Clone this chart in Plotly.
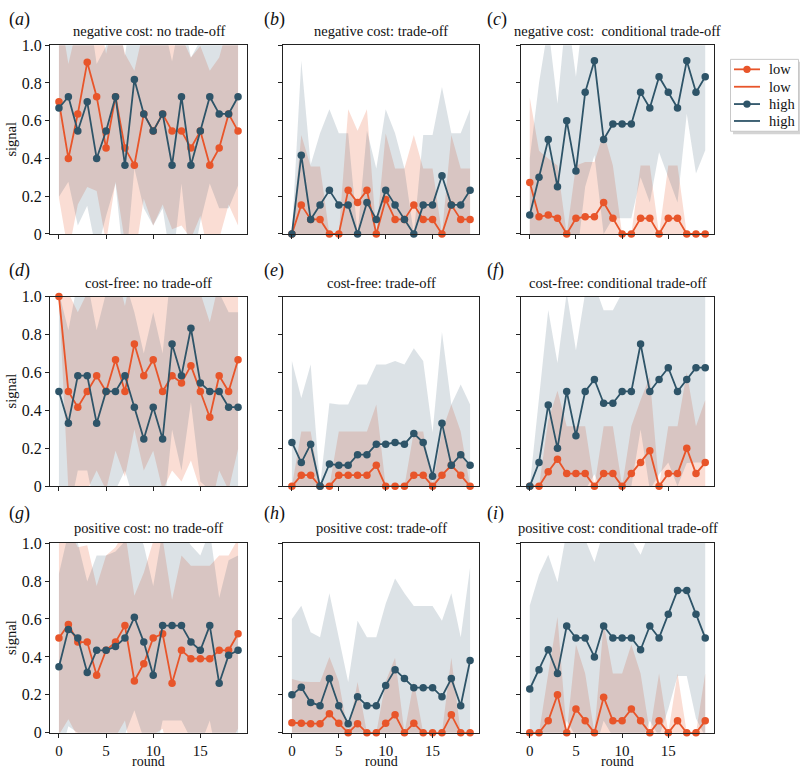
import numpy as np
import plotly.graph_objects as go

rounds = list(range(20))

titles = ["negative cost: no trade-off", "negative cost: trade-off", "negative cost:  conditional trade-off",
          "cost-free: no trade-off", "cost-free: trade-off", "cost-free: conditional trade-off",
          "positive cost: no trade-off", "positive cost: trade-off", "positive cost: conditional trade-off"]
panel_letters = ["a", "b", "c", "d", "e", "f", "g", "h", "i"]
ytick_vals = [0, 0.2, 0.4, 0.6, 0.8, 1.0]
ytick_text = ["0", "0.2", "0.4", "0.6", "0.8", "1.0"]
xtick_vals = [0, 5, 10, 15]
legend_names = ["low", "low", "high", "high"]

# (a) negative cost: no trade-off
low_mean_a = [0.70, 0.40, 0.636, 0.909, 0.727, 0.455, 0.727, 0.455, 0.364, 0.636, 0.545, 0.636, 0.545, 0.545, 0.455, 0.545, 0.364, 0.455, 0.636, 0.545]
low_sd_a = [0.51, 0.5, 0.48, 0.66, 0.5, 0.5, 0.45, 0.5, 0.5, 0.45, 0.5, 0.48, 0.52, 0.5, 0.48, 0.45, 0.5, 0.48, 0.48, 0.5]
high_mean_a = [0.667, 0.727, 0.545, 0.70, 0.40, 0.545, 0.727, 0.364, 0.818, 0.636, 0.545, 0.636, 0.364, 0.727, 0.364, 0.545, 0.727, 0.636, 0.636, 0.727]
high_sd_a = [0.47, 0.45, 0.5, 0.55, 0.5, 0.45, 0.46, 0.58, 0.47, 0.5, 0.5, 0.5, 0.55, 0.46, 0.57, 0.48, 0.46, 0.5, 0.5, 0.47]

# (b) negative cost: trade-off
low_mean_b = [0, 0.154, 0.077, 0.077, 0, 0, 0.231, 0.167, 0.231, 0, 0.182, 0.077, 0.077, 0.154, 0.077, 0.077, 0, 0.154, 0.077, 0.077]
low_sd_b = [0, 0.37, 0.28, 0.28, 0, 0, 0.43, 0.38, 0.43, 0, 0.35, 0.27, 0.27, 0.37, 0.27, 0.27, 0, 0.37, 0.27, 0.27]
high_mean_b = [0, 0.417, 0.077, 0.154, 0.231, 0.154, 0.154, 0, 0.167, 0.077, 0.231, 0.154, 0.077, 0, 0.154, 0.154, 0.308, 0.154, 0.154, 0.231]
high_sd_b = [0, 0.5, 0.29, 0.38, 0.43, 0.38, 0.38, 0, 0.38, 0.27, 0.43, 0.38, 0.27, 0, 0.37, 0.37, 0.47, 0.38, 0.38, 0.43]

# (c) negative cost: conditional trade-off
low_mean_c = [0.273, 0.091, 0.1, 0.083, 0, 0.083, 0.091, 0.091, 0.167, 0.083, 0, 0, 0.083, 0.083, 0, 0.083, 0.083, 0, 0, 0]
low_sd_c = [0.45, 0.35, 0.3, 0.28, 0, 0.28, 0.29, 0.29, 0.37, 0.28, 0, 0, 0.28, 0.28, 0, 0.28, 0.28, 0, 0, 0]
high_mean_c = [0.1, 0.3, 0.5, 0.25, 0.6, 0.333, 0.75, 0.917, 0.5, 0.583, 0.583, 0.583, 0.75, 0.667, 0.833, 0.75, 0.667, 0.917, 0.75, 0.833]
high_sd_c = [0.3, 0.5, 0.6, 0.44, 0.6, 0.5, 0.5, 0.5, 0.5, 0.5, 0.5, 0.5, 0.45, 0.5, 0.4, 0.45, 0.5, 0.28, 0.43, 0.39]

# (d) cost-free: no trade-off
low_mean_d = [1.0, 0.5, 0.417, 0.5, 0.583, 0.5, 0.667, 0.5, 0.75, 0.583, 0.667, 0.5, 0.583, 0.545, 0.636, 0.5, 0.364, 0.583, 0.5, 0.667]
low_sd_d = [0, 0.52, 0.5, 0.52, 0.5, 0.52, 0.48, 0.45, 0.45, 0.5, 0.48, 0.52, 0.5, 0.52, 0.5, 0.52, 0.5, 0.5, 0.52, 0.47]
high_mean_d = [0.5, 0.333, 0.583, 0.583, 0.333, 0.5, 0.5, 0.583, 0.417, 0.25, 0.417, 0.25, 0.75, 0.583, 0.833, 0.545, 0.5, 0.5, 0.417, 0.417]
high_sd_d = [0.52, 0.49, 0.5, 0.5, 0.49, 0.52, 0.52, 0.5, 0.5, 0.45, 0.5, 0.45, 0.45, 0.5, 0.39, 0.52, 0.52, 0.52, 0.5, 0.5]

# (e) cost-free: trade-off
low_mean_e = [0, 0.059, 0.059, 0, 0, 0.059, 0.059, 0.059, 0.059, 0.111, 0, 0, 0, 0.059, 0.059, 0, 0.059, 0.111, 0.059, 0]
low_sd_e = [0, 0.23, 0.23, 0, 0, 0.23, 0.23, 0.23, 0.23, 0.32, 0, 0, 0, 0.23, 0.23, 0, 0.23, 0.32, 0.23, 0]
high_mean_e = [0.231, 0.125, 0.222, 0, 0.118, 0.111, 0.111, 0.167, 0.167, 0.222, 0.222, 0.231, 0.222, 0.278, 0.231, 0.053, 0.333, 0.111, 0.167, 0.111]
high_sd_e = [0.43, 0.34, 0.42, 0, 0.32, 0.32, 0.32, 0.37, 0.37, 0.42, 0.42, 0.43, 0.42, 0.45, 0.43, 0.23, 0.48, 0.32, 0.37, 0.32]

# (f) cost-free: conditional trade-off
low_mean_f = [0, 0, 0.077, 0.143, 0.067, 0.067, 0.067, 0, 0.067, 0.067, 0, 0.067, 0.125, 0.188, 0, 0.067, 0.067, 0.2, 0.067, 0.125]
low_sd_f = [0, 0, 0.27, 0.36, 0.25, 0.25, 0.25, 0, 0.25, 0.25, 0, 0.25, 0.33, 0.39, 0, 0.25, 0.25, 0.4, 0.25, 0.33]
high_mean_f = [0, 0.125, 0.429, 0.2, 0.5, 0.267, 0.5, 0.563, 0.438, 0.438, 0.5, 0.5, 0.75, 0.5, 0.563, 0.625, 0.5, 0.563, 0.625, 0.625]
high_sd_f = [0, 0.33, 0.5, 0.45, 0.52, 0.45, 0.52, 0.5, 0.49, 0.49, 0.52, 0.5, 0.45, 0.52, 0.5, 0.5, 0.5, 0.44, 0.5, 0.5]

# (g) positive cost: no trade-off
low_mean_g = [0.5, 0.571, 0.478, 0.478, 0.304, 0.435, 0.478, 0.565, 0.273, 0.364, 0.5, 0.522, 0.261, 0.435, 0.391, 0.391, 0.391, 0.435, 0.435, 0.522]
low_sd_g = [0.51, 0.5, 0.5, 0.51, 0.47, 0.5, 0.5, 0.5, 0.45, 0.48, 0.51, 0.5, 0.44, 0.5, 0.49, 0.49, 0.49, 0.5, 0.5, 0.5]
high_mean_g = [0.348, 0.545, 0.5, 0.318, 0.435, 0.435, 0.455, 0.5, 0.609, 0.478, 0.304, 0.565, 0.565, 0.565, 0.478, 0.435, 0.565, 0.261, 0.409, 0.435]
high_sd_g = [0.49, 0.51, 0.5, 0.48, 0.5, 0.5, 0.5, 0.51, 0.49, 0.51, 0.47, 0.5, 0.5, 0.5, 0.51, 0.5, 0.5, 0.45, 0.5, 0.5]

# (h) positive cost: trade-off
low_mean_h = [0.053, 0.05, 0.048, 0.048, 0.1, 0.05, 0, 0.048, 0, 0, 0.05, 0.095, 0, 0.05, 0, 0, 0, 0.095, 0, 0]
low_sd_h = [0.23, 0.22, 0.22, 0.22, 0.3, 0.22, 0, 0.22, 0, 0, 0.22, 0.3, 0, 0.22, 0, 0, 0, 0.3, 0, 0]
high_mean_h = [0.2, 0.24, 0.16, 0.143, 0.286, 0.143, 0.048, 0.19, 0.143, 0.143, 0.25, 0.333, 0.286, 0.238, 0.238, 0.238, 0.19, 0.286, 0.143, 0.381]
high_sd_h = [0.4, 0.43, 0.37, 0.36, 0.45, 0.36, 0.22, 0.4, 0.36, 0.36, 0.43, 0.48, 0.45, 0.43, 0.43, 0.43, 0.4, 0.45, 0.36, 0.49]

# (i) positive cost: conditional trade-off
low_mean_i = [0, 0, 0.063, 0.2, 0, 0.125, 0.063, 0, 0.188, 0.063, 0.063, 0.125, 0.063, 0, 0.063, 0, 0.063, 0, 0, 0.063]
low_sd_i = [0, 0, 0.25, 0.41, 0, 0.34, 0.25, 0, 0.39, 0.25, 0.25, 0.34, 0.25, 0, 0.25, 0, 0.25, 0, 0, 0.25]
high_mean_i = [0.231, 0.333, 0.438, 0.313, 0.563, 0.5, 0.5, 0.4, 0.563, 0.5, 0.5, 0.5, 0.438, 0.563, 0.5, 0.625, 0.75, 0.75, 0.625, 0.5]
high_sd_i = [0.44, 0.5, 0.5, 0.48, 0.5, 0.52, 0.52, 0.5, 0.5, 0.52, 0.52, 0.52, 0.5, 0.5, 0.52, 0.5, 0.45, 0.45, 0.55, 0.52]

panels = [
    (low_mean_a, low_sd_a, high_mean_a, high_sd_a),
    (low_mean_b, low_sd_b, high_mean_b, high_sd_b),
    (low_mean_c, low_sd_c, high_mean_c, high_sd_c),
    (low_mean_d, low_sd_d, high_mean_d, high_sd_d),
    (low_mean_e, low_sd_e, high_mean_e, high_sd_e),
    (low_mean_f, low_sd_f, high_mean_f, high_sd_f),
    (low_mean_g, low_sd_g, high_mean_g, high_sd_g),
    (low_mean_h, low_sd_h, high_mean_h, high_sd_h),
    (low_mean_i, low_sd_i, high_mean_i, high_sd_i),
]

W, H = 800, 779
FONT = "Liberation Serif"
ORANGE = "#E8552A"
BLUE = "#2E5468"
ORANGE_FILL = "rgba(232,85,42,0.2)"
BLUE_FILL = "rgba(46,84,104,0.17)"

col_px = [(50, 247), (283, 479), (521, 714)]
row_px = [(38, 231), (295, 489), (547, 741)]
title_y = [24, 281, 532]
label_y = [12, 268, 517]
label_x = [7, 262, 485]


def px(xp):
    return xp / W


def py(yp):
    return 1 - yp / H


fig = go.Figure()
layout = {}
annotations = []
shapes = []

for k, (lm, ls, hm, hs) in enumerate(panels):
    r, c = divmod(k, 3)
    n = k + 1
    xa = "x" if n == 1 else f"x{n}"
    ya = "y" if n == 1 else f"y{n}"
    x0, x1 = col_px[c]
    y0, y1 = row_px[r]

    for mean, sd, fillc in ((lm, ls, ORANGE_FILL), (hm, hs, BLUE_FILL)):
        m = np.array(mean)
        s = np.array(sd)
        up = m + s
        lo = m - s
        fig.add_trace(go.Scatter(
            x=rounds + rounds[::-1], y=list(up) + list(lo[::-1]),
            fill="toself", fillcolor=fillc, mode="lines", line=dict(width=0),
            hoverinfo="skip", showlegend=False, xaxis=xa, yaxis=ya))
    for mean, col in ((lm, ORANGE), (hm, BLUE)):
        fig.add_trace(go.Scatter(
            x=rounds, y=mean, mode="lines+markers",
            line=dict(color=col, width=1.8), marker=dict(color=col, size=7.5),
            cliponaxis=False, showlegend=False, xaxis=xa, yaxis=ya))

    xkey = "xaxis" if n == 1 else f"xaxis{n}"
    ykey = "yaxis" if n == 1 else f"yaxis{n}"
    layout[xkey] = dict(
        domain=[px(x0), px(x1)], anchor=ya, range=[-0.95, 19.95],
        tickvals=xtick_vals, showticklabels=(r == 2), ticks="outside", ticklen=4,
        ticklabelstandoff=0,
        tickcolor="#222", showline=True, mirror=True, linecolor="#222", linewidth=1,
        showgrid=False, zeroline=False, tickfont=dict(family=FONT, size=15, color="#111"))
    layout[ykey] = dict(
        domain=[py(y1), py(y0)], anchor=xa, range=[0, 1],
        tickvals=ytick_vals, ticktext=ytick_text, showticklabels=(c == 0),
        ticks="outside", ticklen=4, tickcolor="#222", showline=True, mirror=True,
        linecolor="#222", linewidth=1, showgrid=False, zeroline=False,
        tickfont=dict(family=FONT, size=16, color="#111"))

    annotations.append(dict(
        text=titles[k], x=px((x0 + x1) / 2), y=py(title_y[r]), xref="paper", yref="paper",
        xanchor="center", yanchor="middle", showarrow=False,
        font=dict(family=FONT, size=14.5, color="#111")))
    annotations.append(dict(
        text=f"(<i>{panel_letters[k]}</i>)", x=px(label_x[c]), y=py(label_y[r]),
        xref="paper", yref="paper", xanchor="left", yanchor="middle", showarrow=False,
        font=dict(family=FONT, size=18, color="#111")))
    if c == 0:
        annotations.append(dict(
            text="signal", x=px(11), y=py((y0 + y1) / 2), xref="paper", yref="paper",
            xanchor="center", yanchor="middle", textangle=-90, showarrow=False,
            font=dict(family=FONT, size=14.5, color="#111")))
    if r == 2:
        annotations.append(dict(
            text="round", x=px((x0 + x1) / 2), y=0, xref="paper", yref="paper",
            xanchor="center", yanchor="bottom", showarrow=False, borderpad=0,
            font=dict(family=FONT, size=14, color="#111")))

# custom legend box (with a soft shadow) drawn on the paper
shapes.append(dict(type="rect", xref="paper", yref="paper", layer="above",
                   x0=px(733), x1=px(801), y0=py(129), y1=py(55),
                   fillcolor="#d4d4d4", line=dict(width=0)))
shapes.append(dict(type="rect", xref="paper", yref="paper", layer="above",
                   x0=px(730.5), x1=px(798.5), y0=py(126), y1=py(52.5),
                   fillcolor="white", line=dict(color="#c8c8c8", width=1)))
legend_colors = [ORANGE, ORANGE, BLUE, BLUE]
legend_markers = [True, False, True, False]
legend_rows = [62.7, 80.5, 98.2, 115.5]
for name, col, mk, yy in zip(legend_names, legend_colors, legend_markers, legend_rows):
    shapes.append(dict(type="line", xref="paper", yref="paper", layer="above",
                       x0=px(734), x1=px(760), y0=py(yy), y1=py(yy),
                       line=dict(color=col, width=1.8)))
    if mk:
        shapes.append(dict(type="circle", xref="paper", yref="paper", layer="above",
                           x0=px(743.3), x1=px(750.7), y0=py(yy + 3.7), y1=py(yy - 3.7),
                           fillcolor=col, line=dict(color=col, width=0)))
    annotations.append(dict(
        text=name, x=px(767), y=py(yy), xref="paper", yref="paper",
        xanchor="left", yanchor="middle", showarrow=False,
        font=dict(family=FONT, size=14.5, color="#111")))

fig.update_layout(
    width=W, height=H, margin=dict(l=0, r=0, t=0, b=0),
    paper_bgcolor="white", plot_bgcolor="white",
    font=dict(family=FONT, color="#111"),
    showlegend=False,
    annotations=annotations,
    shapes=shapes,
    **layout)

fig.write_html("out.html",
               config={"displayModeBar": False},
               post_script="document.body.style.margin='0px';document.body.style.overflow='hidden';")
